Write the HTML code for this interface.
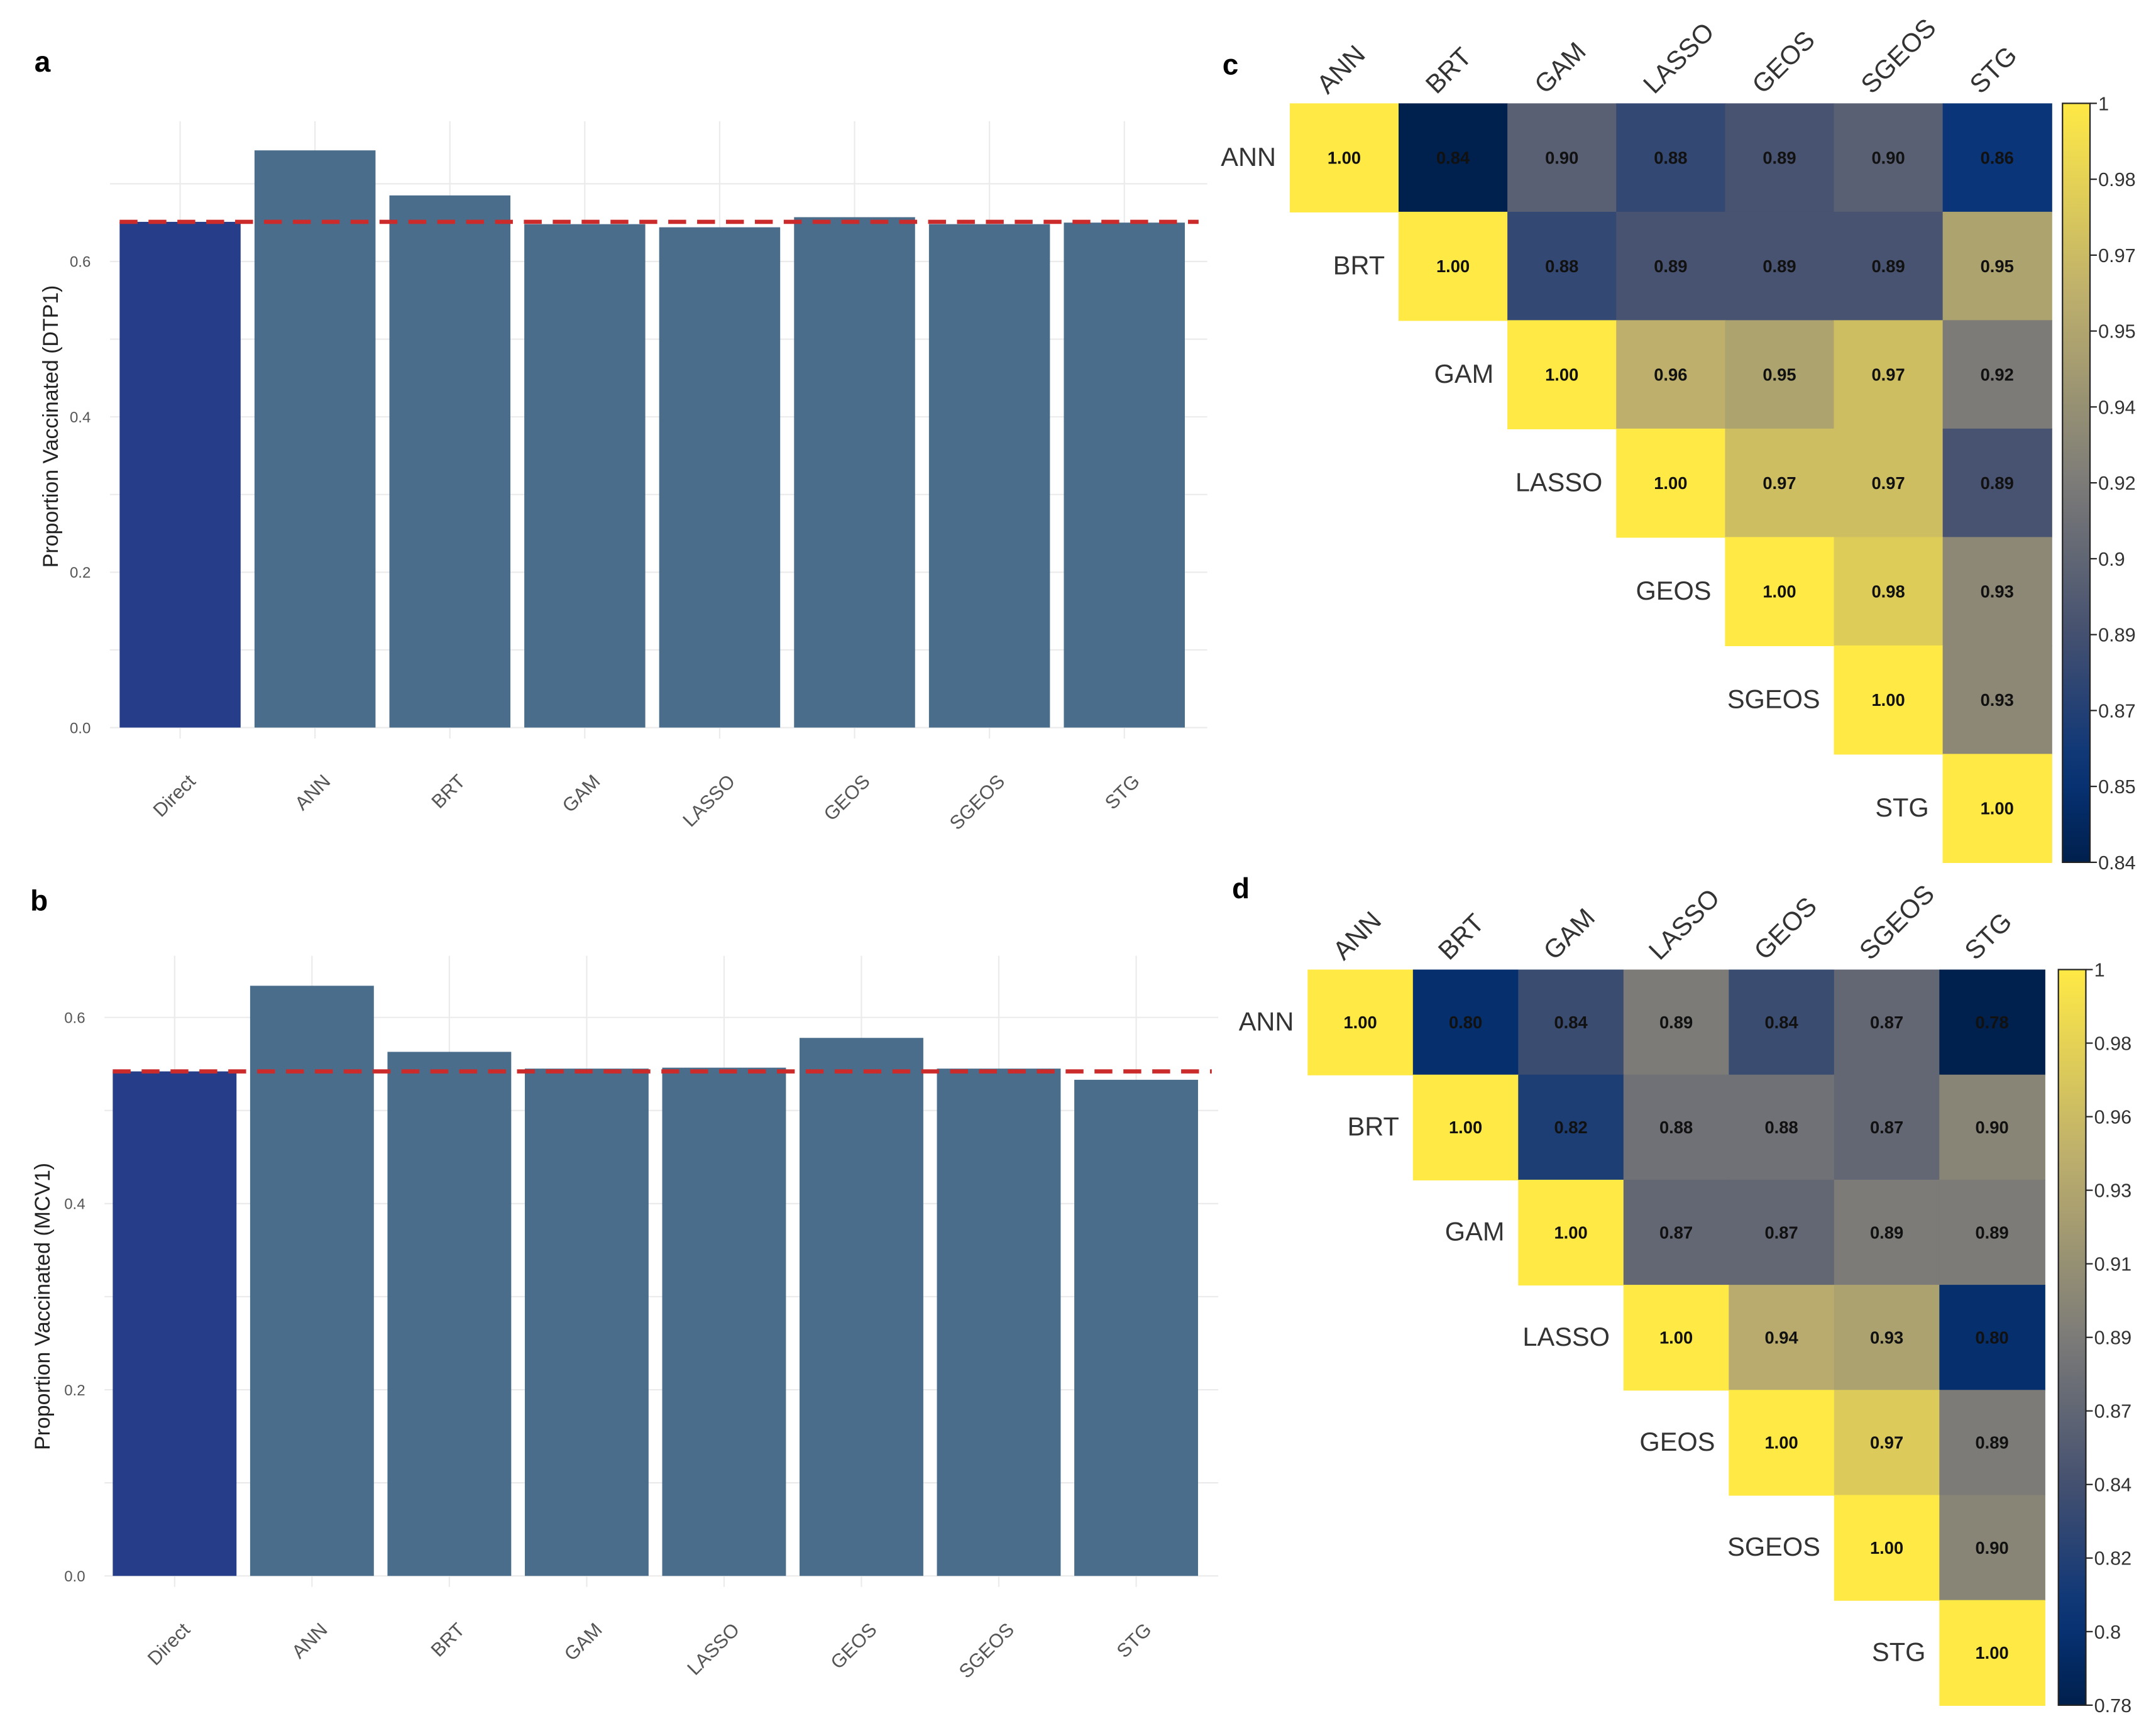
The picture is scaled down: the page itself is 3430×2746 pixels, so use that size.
<!DOCTYPE html>
<html><head><meta charset="utf-8"><style>
html,body{margin:0;padding:0;background:#fff;}
svg{display:block;font-family:"Liberation Sans",sans-serif;}
</style></head><body>
<svg id="fig" width="3430" height="2746" viewBox="0 0 1568 1255" xmlns="http://www.w3.org/2000/svg">
<rect width="1568" height="1255" fill="#fff"/>
<text x="25" y="52" font-size="21" font-weight="bold">a</text>
<text x="22" y="662" font-size="21" font-weight="bold">b</text>
<text x="889" y="54" font-size="21" font-weight="bold">c</text>
<text x="896" y="653" font-size="21" font-weight="bold">d</text>
</svg>
<script>
const NS="http://www.w3.org/2000/svg";
const svg=document.getElementById('fig');
function mk(tag,attrs,parent){const e=document.createElementNS(NS,tag);for(const k in attrs)e.setAttribute(k,attrs[k]);(parent||svg).appendChild(e);return e;}

// ---- bar chart data ----
const barCats=["Direct","ANN","BRT","GAM","LASSO","GEOS","SGEOS","STG"];
const dtp1Values=[0.651,0.743,0.685,0.648,0.644,0.657,0.648,0.650];
const dtp1Ref=0.651;
const mcv1Values=[0.542,0.634,0.563,0.545,0.546,0.578,0.545,0.533];
const mcv1Ref=0.542;
const yTicks=[0.0,0.2,0.4,0.6];
const yTickLabels=["0.0","0.2","0.4","0.6"];

function barPanel(name,vals,ref,o){
  const g=mk('g',{});
  
  
  const y=v=>o.y0-v*o.k;
  const xc=i=>o.c0+i*o.step;
  for(let v=0;y(v)>=o.top;v+=0.1){
    const l=mk('line',{x1:o.gx0,x2:o.gx1,y1:y(v),y2:y(v),stroke:"#ebebeb","stroke-width":1},g);
    
    
  }
  barCats.forEach((c,i)=>{
    const l=mk('line',{x1:xc(i),x2:xc(i),y1:o.top,y2:o.y0+8,stroke:"#ebebeb","stroke-width":1},g);
    
    
  });
  yTicks.forEach((t,i)=>{
    const tx=mk('text',{x:o.tickX,y:y(t)+4,"font-size":11,fill:"#555","text-anchor":"end"},g);
    tx.textContent=yTickLabels[i];
    
    
  });
  vals.forEach((v,i)=>{
    const r=mk('rect',{x:xc(i)-o.bw/2,y:y(v),width:o.bw,height:v*o.k,fill:i===0?"#263e8a":"#4a6d8b"},g);
    
    
    const tx=mk('text',{x:0,y:0,"font-size":14,fill:"#555","text-anchor":"end",transform:`translate(${xc(i)+12},${o.y0+40}) rotate(-45)`},g);
    tx.textContent=barCats[i];
    
    
  });
  const d=mk('line',{x1:o.c0-o.bw/2,x2:xc(7)+o.bw/2+10,y1:y(ref),y2:y(ref),stroke:"#cc2b2b","stroke-width":3,"stroke-dasharray":"13,8"},g);
  
  
  const yl=mk('text',{x:0,y:0,"font-size":15.5,fill:"#222","text-anchor":"middle",transform:`translate(${o.labX},${o.labY}) rotate(-90)`},g);
  yl.textContent=o.label;
  
  
}
barPanel('bar-chart-dtp1',dtp1Values,dtp1Ref,{y0:529,k:565,c0:131,step:98.1,bw:88,top:88,gx0:80,gx1:878,tickX:66,labX:42,labY:310,label:"Proportion Vaccinated (DTP1)"});
barPanel('bar-chart-mcv1',mcv1Values,mcv1Ref,{y0:1146,k:677,c0:127,step:99.9,bw:90,top:695,gx0:76,gx1:886,tickX:62,labX:36,labY:950,label:"Proportion Vaccinated (MCV1)"});

// ---- heatmap data ----
const models=["ANN","BRT","GAM","LASSO","GEOS","SGEOS","STG"];
const corrDTP1=[
 [1.00,0.84,0.90,0.88,0.89,0.90,0.86],
 [1.00,0.88,0.89,0.89,0.89,0.95],
 [1.00,0.96,0.95,0.97,0.92],
 [1.00,0.97,0.97,0.89],
 [1.00,0.98,0.93],
 [1.00,0.93],
 [1.00]];
const corrMCV1=[
 [1.00,0.80,0.84,0.89,0.84,0.87,0.78],
 [1.00,0.82,0.88,0.88,0.87,0.90],
 [1.00,0.87,0.87,0.89,0.89],
 [1.00,0.94,0.93,0.80],
 [1.00,0.97,0.89],
 [1.00,0.90],
 [1.00]];
const cbLabelsC=["1","0.98","0.97","0.95","0.94","0.92","0.9","0.89","0.87","0.85","0.84"];
const cbLabelsD=["1","0.98","0.96","0.93","0.91","0.89","0.87","0.84","0.82","0.8","0.78"];

const cmapStops=[[0,[0,32,77]],[0.12,[8,52,120]],[0.3,[68,80,112]],[0.5,[124,123,120]],[0.75,[190,176,108]],[1,[255,233,69]]];
function cividis(t){t=Math.max(0,Math.min(1,t));for(let i=1;i<cmapStops.length;i++){if(t<=cmapStops[i][0]){const a=cmapStops[i-1],b=cmapStops[i],f=(t-a[0])/(b[0]-a[0]);return `rgb(${a[1].map((c,j)=>Math.round(c+(b[1][j]-c)*f)).join(',')})`;}}return 'rgb(255,233,69)';}

function heat(name,mat,vmin,o,cbLabels){
  const g=mk('g',{});
  
  
  const cw=(o.x1-o.x0)/7, ch=(o.y1-o.y0)/7;
  mat.forEach((row,r)=>{
    row.forEach((v,k)=>{
      const c=r+k;
      const x=o.x0+c*cw,y=o.y0+r*ch;
      const rc=mk('rect',{x:x,y:y,width:cw+0.5,height:ch+0.5,fill:cividis((v-vmin)/(1-vmin))},g);
      
      
      const t=mk('text',{x:x+cw/2,y:y+ch/2+4.5,"font-size":12.5,"font-weight":"bold","text-anchor":"middle",fill:"#111"},g);
      t.textContent=v.toFixed(2);
      
      
    });
    const rl=mk('text',{x:o.x0+r*cw-10,y:o.y0+r*ch+ch/2+6,"font-size":19,fill:"#333","text-anchor":"end"},g);
    rl.textContent=models[r];
    
    
  });
  models.forEach((m,c)=>{
    const t=mk('text',{x:0,y:0,"font-size":19,fill:"#333","text-anchor":"start",transform:`translate(${o.x0+c*cw+cw/2-12},${o.y0-6}) rotate(-45)`},g);
    t.textContent=m;
    
    
  });
  const defs=mk('defs',{},g);
  const gid=name+'-grad';
  const lg=mk('linearGradient',{id:gid,x1:0,y1:1,x2:0,y2:0},defs);
  for(let i=0;i<=20;i++)mk('stop',{offset:i/20,"stop-color":cividis(i/20)},lg);
  const cb=mk('rect',{x:o.cbx,y:o.y0,width:20,height:o.y1-o.y0,fill:`url(#${gid})`,stroke:"#222","stroke-width":1},g);
  
  
  cbLabels.forEach((l,i)=>{
    const y=o.y0+i*(o.y1-o.y0)/(cbLabels.length-1);
    mk('line',{x1:o.cbx+20,x2:o.cbx+25,y1:y,y2:y,stroke:"#222","stroke-width":1},g);
    const t=mk('text',{x:o.cbx+26,y:y+5,"font-size":14,fill:"#333"},g);
    t.textContent=l;
    
    
  });
}
heat('heatmap-dtp1',corrDTP1,0.84,{x0:938,x1:1492,y0:75,y1:627,cbx:1500},cbLabelsC);
heat('heatmap-mcv1',corrMCV1,0.78,{x0:951,x1:1487,y0:705,y1:1240,cbx:1497},cbLabelsD);
</script>
</body></html>
